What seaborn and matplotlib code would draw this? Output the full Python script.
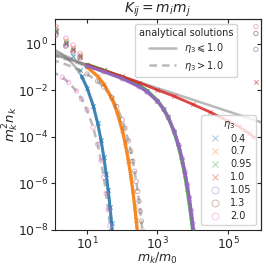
import numpy as np
import pandas as pd
import matplotlib
matplotlib.use("Agg")
import matplotlib.pyplot as plt
import seaborn as sns
from matplotlib.lines import Line2D

sns.set_style("ticks")
plt.rcParams["font.family"] = ["DejaVu Sans"]
plt.rcParams["mathtext.fontset"] = "dejavusans"

eta_labels = ["0.4", "0.7", "0.95", "1.0", "1.05", "1.3", "2.0"]
palette = sns.color_palette("tab10", 7)

# ---- analytical curves (m_k/m_0, log10 of m_k^2 n_k) ----
m_a = [1, 2, 3, 5, 7, 10, 15, 20, 25, 30, 35, 40, 45, 50, 55]
ana_04 = [-0.174, -0.443, -0.662, -1.044, -1.390, -1.878, -2.651, -3.400, -4.135,
          -4.862, -5.582, -6.298, -7.010, -7.720, -8.427]
ana_20 = [-1.170, -1.436, -1.651, -2.025, -2.362, -2.838, -3.591, -4.319, -5.034,
          -5.740, -6.440, -7.135, -7.827, -8.516, -9.203]

m_b = [1, 2, 3, 5, 10, 20, 30, 50, 70, 100, 120, 150, 175, 200, 225, 250, 275,
       300, 325, 350, 375, 400]
ana_07 = [-0.305, -0.461, -0.568, -0.724, -0.994, -1.388, -1.723, -2.325, -2.890,
          -3.706, -4.238, -5.025, -5.675, -6.319, -6.960, -7.598, -8.234, -8.869,
          -9.50, -10.13, -10.76, -11.39]
ana_13 = [-0.679, -0.828, -0.926, -1.066, -1.295, -1.606, -1.858, -2.295, -2.694,
          -3.262, -3.629, -4.168, -4.610, -5.048, -5.482, -5.914, -6.343, -6.771,
          -7.197, -7.622, -8.045, -8.468]

m_c = [1, 3, 10, 30, 100, 300, 500, 1000, 1500, 2000, 3000, 4000, 5000, 6000,
       7000, 8000, 9000, 10000, 11000, 12000]
ana_095 = [-0.413, -0.629, -0.887, -1.134, -1.433, -1.784, -2.007, -2.438, -2.807,
           -3.150, -3.799, -4.422, -5.031, -5.632, -6.227, -6.817, -7.403, -7.987,
           -8.569, -9.149]
ana_105 = [-0.478, -0.693, -0.950, -1.197, -1.494, -1.838, -2.054, -2.468, -2.820,
           -3.146, -3.761, -4.350, -4.925, -5.492, -6.053, -6.609, -7.161, -7.711,
           -8.259, -8.804]

m_d = [1, 10, 100, 1e3, 1e4, 1e5, 1e6]
ana_10 = [-0.435, -0.903, -1.399, -1.899, -2.399, -2.899, -3.399]

# ---- numerical results (log10 of m_k^2 n_k) ----
head_m = [1.3, 2.5, 4.0, 6.3]
head_04 = [0.62, 0.05, -0.50, -1.10]
head_07 = [0.72, 0.15, -0.15, -0.45]
head_095 = [0.55, 0.10, -0.20, -0.50]
head_10 = [0.50, 0.00, -0.25, -0.55]
head_105 = [0.42, -0.05, -0.30, -0.55]
head_13 = [0.36, -0.10, -0.35, -0.60]
head_20 = [0.76, 0.25, -0.05, -0.40]

num_m_10 = [10, 30, 100, 300, 1000, 3000, 1e4, 3e4, 1e5, 2e5, 4e5, 5.5e5]
num_10 = [-0.90, -1.14, -1.40, -1.66, -1.98, -2.25, -2.60, -2.92, -3.32, -3.55,
          -3.85, -4.02]

gel_m = 6.2e5
gel_labels = ["1.0", "1.05", "1.3", "2.0"]
gel_vals = [-1.64, -0.23, 0.45, 0.75]

fig = plt.figure(figsize=(2.66, 2.66), dpi=100)
ax = fig.add_axes([0.205, 0.136, 0.775, 0.793])
ax.set_xscale("log")
ax.set_yscale("log")

def p10(v):
    return 10.0 ** np.asarray(v, dtype=float)

# analytical solutions (gray)
ana_sets = [
    (m_a, ana_04, "-"), (m_b, ana_07, "-"), (m_c, ana_095, "-"), (m_d, ana_10, "-"),
    (m_c, ana_105, "--"), (m_b, ana_13, "--"), (m_a, ana_20, "--"),
]
for mm, vv, ls in ana_sets:
    sns.lineplot(x=mm, y=p10(vv), ax=ax, color="gray", lw=1.8, alpha=0.55,
                 estimator=None, sort=False, zorder=1,
                 dashes=False if ls == "-" else (3, 2))

def body(mm, vv, mmin):
    bm = [m for m in mm if m >= mmin]
    bv = [v for m, v in zip(mm, vv) if m >= mmin]
    return bm, bv

# (label, head values, body data, marker, band width, band alpha, marker alpha, z)
series = [
    ("0.4", head_04, body(m_a, ana_04, 7), "x", 2.2, 0.8, 0.7, 3),
    ("0.7", head_07, body(m_b, ana_07, 10), "x", 2.4, 0.85, 0.6, 3),
    ("0.95", head_095, body(m_c, ana_095, 10), "x", 2.6, 0.8, 0.6, 3),
    ("1.0", head_10, (num_m_10, num_10), "x", 2.0, 0.85, 0.6, 3),
    ("1.05", head_105, body(m_c, ana_105, 10), "o", 2.2, 1.0, 0.6, 5),
    ("1.3", head_13, body(m_b, ana_13, 10), "o", 0.0, 0.0, 0.45, 3),
    ("2.0", head_20, body(m_a, ana_20, 2), "o", 0.0, 0.0, 0.55, 3),
]
for i, (lab, hv, (bm, bv), mk, bw, ba, ma, z) in enumerate(series):
    c = palette[i]
    if bw > 0:
        sns.lineplot(x=bm, y=p10(bv), ax=ax, color=c, lw=bw, alpha=ba,
                     estimator=None, sort=False, zorder=z - 1)
    xm = list(head_m) + list(bm)
    yv = p10(list(hv) + list(bv))
    if mk == "x":
        sns.scatterplot(x=xm, y=yv, ax=ax, marker="x", color=c, s=10,
                        linewidth=0.7, alpha=ma, zorder=z)
    else:
        sns.scatterplot(x=xm, y=yv, ax=ax, marker="o", facecolor="none",
                        edgecolor=c, s=10, linewidth=0.7, alpha=ma, zorder=z)

for lab, gv in zip(gel_labels, gel_vals):
    i = eta_labels.index(lab)
    c = palette[i]
    if lab == "1.0":
        sns.scatterplot(x=[gel_m], y=p10([gv]), ax=ax, marker="x", color=c, s=10,
                        linewidth=0.7, alpha=0.6, zorder=3)
    else:
        sns.scatterplot(x=[gel_m], y=p10([gv]), ax=ax, marker="o", facecolor="none",
                        edgecolor=c, s=10, linewidth=0.7, alpha=0.6, zorder=3)

ax.set_xlim(1.2, 8.5e5)
ax.set_ylim(1e-8, 12)
ax.set_xticks([1e1, 1e3, 1e5])
ax.set_yticks([1e0, 1e-2, 1e-4, 1e-6, 1e-8])
ax.minorticks_off()
ax.tick_params(labelsize=9, length=3, width=0.8, pad=1.5)

secx = ax.secondary_xaxis("top")
secx.set_xticks([1e1, 1e3, 1e5])
secx.tick_params(direction="in", length=3, labeltop=False)
secx.minorticks_off()
secy = ax.secondary_yaxis("right")
secy.set_yticks([1e0, 1e-2, 1e-4, 1e-6, 1e-8])
secy.tick_params(direction="in", length=3, labelright=False)
secy.minorticks_off()

ax.set_title(r"$K_{ij} = m_i m_j$", fontsize=10, pad=1.5)
ax.set_xlabel(r"$m_k/m_0$", fontsize=9, labelpad=-1)
ax.set_ylabel(r"$m_k^2 n_k$", fontsize=9.5, labelpad=-2)

h1 = [Line2D([], [], color="gray", lw=1.8, alpha=0.55, ls="-"),
      Line2D([], [], color="gray", lw=1.8, alpha=0.55, ls=(0, (3, 2)))]
leg1 = ax.legend(h1, [r"$\eta_3\leqslant$1.0", r"$\eta_3 > 1.0$"],
                 title="analytical solutions", fontsize=7, title_fontsize=7,
                 loc="upper right", bbox_to_anchor=(0.885, 0.975),
                 borderaxespad=0, handlelength=2.8, labelspacing=0.35,
                 borderpad=0.4, framealpha=0.8)
leg1.set_zorder(10)
ax.add_artist(leg1)

h2 = []
for i, lab in enumerate(eta_labels):
    mk = "x" if float(lab) <= 1.0 else "o"
    h2.append(Line2D([], [], ls="none", marker=mk, color=palette[i],
                     markerfacecolor="none", markersize=5, mew=0.7, alpha=0.4))
leg2 = ax.legend(h2, eta_labels, title=r"$\eta_3$", fontsize=7, title_fontsize=7,
                 loc="lower right", labelspacing=0.3, borderpad=0.4,
                 handletextpad=0.6, framealpha=0.8)
leg2.set_zorder(10)

fig.savefig("out.png", dpi=100)
